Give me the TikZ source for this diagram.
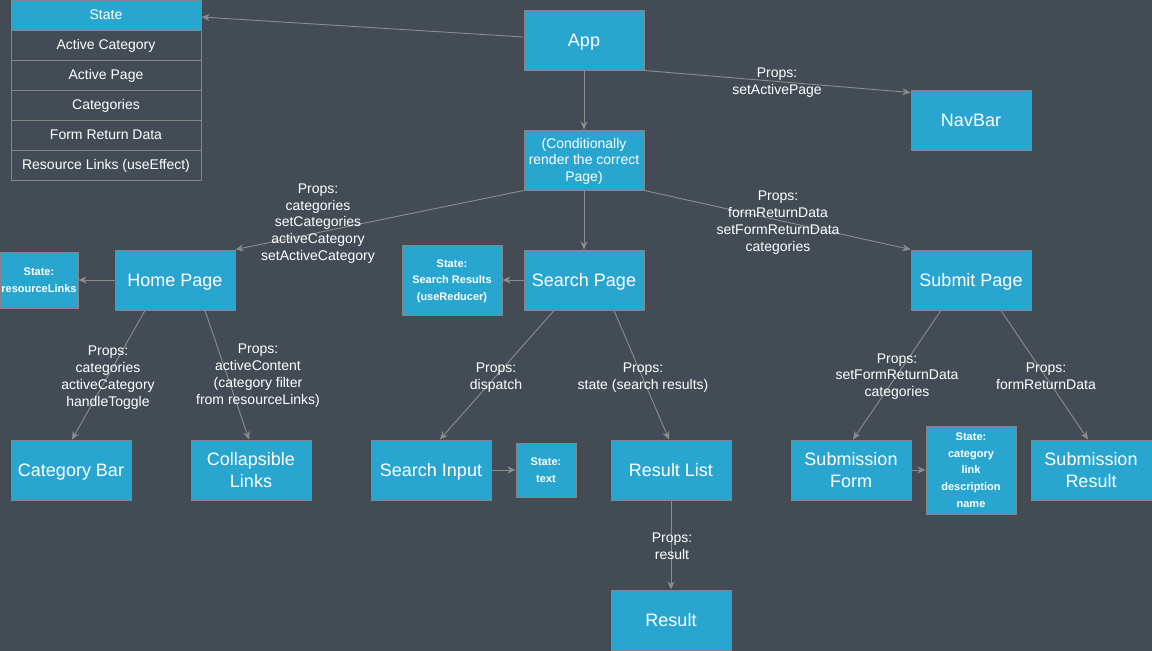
\documentclass[tikz,border=0pt]{standalone}
\usepackage{fontspec}
\setmainfont{Liberation Sans}
\usetikzlibrary{arrows.meta}
\definecolor{bg}{HTML}{434C55}
\definecolor{boxblue}{HTML}{28A6CF}
\definecolor{bordergray}{HTML}{858585}
\definecolor{edgegray}{HTML}{8C8C8C}
\newcommand\ls{\rule[-0.212em]{0pt}{1.117em}}
\tikzset{
  strutted/.style={execute at begin node=\ls, execute at end node=\ls},
  box/.style={strutted, draw=bordergray, fill=boxblue, line width=1pt, minimum width=120pt, minimum height=60pt, inner sep=0pt, text=white, align=center, font=\fontsize{18}{21.6}\selectfont},
  statebox/.style={strutted, draw=bordergray, fill=boxblue, line width=1pt, inner sep=0pt, text=white, align=center, font=\bfseries\fontsize{11}{16.8}\selectfont},
  cell/.style={strutted, draw=bordergray, fill=bg, line width=1pt, minimum width=190pt, minimum height=30pt, inner sep=0pt, text=white, font=\fontsize{14}{17}\selectfont},
  lbl/.style={strutted, text=white, align=center, inner sep=0pt, font=\fontsize{14}{16.8}\selectfont},
  edge/.style={draw=edgegray, line width=0.9pt, -{Stealth[length=8pt,width=7pt,inset=2.5pt]}},
}
\begin{document}
\begin{tikzpicture}[x=1pt,y=-1pt]
\fill[bg] (0,0) rectangle (1152,651);
\useasboundingbox (0,0) rectangle (1152,651);

% state table
\node[cell, fill=boxblue] (st1) at (106,15) {State};
\node[cell] (st2) at (106,45) {Active Category};
\node[cell] (st3) at (106,75) {Active Page};
\node[cell] (st4) at (106,105) {Categories};
\node[cell] (st5) at (106,135) {Form Return Data};
\node[cell] (st6) at (106,165) {Resource Links (useEffect)};

% main boxes
\node[box] (app) at (584,40) {App};
\node[box, font=\fontsize{14}{16.8}\selectfont] (cond) at (584,160) {\ls(Conditionally\\render the correct\\Page)\ls};
\node[box] (nav) at (971,120) {NavBar};
\node[box] (home) at (175,280) {Home Page};
\node[box] (search) at (584,280) {Search Page};
\node[box] (submit) at (971,280) {Submit Page};
\node[box] (catbar) at (71,470) {Category Bar};
\node[box] (coll) at (251,470) {\ls Collapsible\\Links\ls};
\node[box] (sinput) at (431,470) {Search Input};
\node[box] (rlist) at (671,470) {Result List};
\node[box] (result) at (671,620) {Result};
\node[box] (sform) at (851,470) {\ls Submission\\Form\ls};
\node[box] (sresult) at (1091,470) {\ls Submission\\Result\ls};

% state boxes
\node[statebox, minimum width=78pt, minimum height=56pt] (rl) at (39,280) {\ls State:\\resourceLinks\ls};
\node[statebox, minimum width=100pt, minimum height=70pt] (sr) at (452,280) {\ls State:\\Search Results\\(useReducer)\ls};
\node[statebox, minimum width=60pt, minimum height=54pt] (txt) at (546,470) {\ls State:\\text\ls};
\node[statebox, minimum width=90pt, minimum height=88pt] (fst) at (971,470) {\ls State:\\category\\link\\description\\name\ls};

% edges
\draw[edge] ([yshift=3pt]app.west) -- ([yshift=-2pt]st1.east);
\draw[edge] (app.south east) -- ([yshift=-3pt]nav.north west);
\draw[edge] (app.south) -- (cond.north);
\draw[edge] (cond.south west) -- (home.north east);
\draw[edge] (cond.south) -- (search.north);
\draw[edge] (cond.south east) -- (submit.north west);
\draw[edge] (home.west) -- (rl.east);
\draw[edge] (search.west) -- (sr.east);
\draw[edge] ([xshift=-30pt]home.south) -- ([xshift=1pt]catbar.north);
\draw[edge] ([xshift=30pt]home.south) -- ([xshift=-2pt]coll.north);
\draw[edge] ([xshift=-30pt]search.south) -- ([xshift=9pt]sinput.north);
\draw[edge] ([xshift=30pt]search.south) -- ([xshift=-2pt]rlist.north);
\draw[edge] (sinput.east) -- (txt.west);
\draw[edge] (rlist.south) -- (result.north);
\draw[edge] ([xshift=-30pt]submit.south) -- ([xshift=2pt]sform.north);
\draw[edge] ([xshift=30pt]submit.south) -- ([xshift=-3pt]sresult.north);
\draw[edge] (sform.east) -- (fst.west);

% labels
\node[lbl] (l1) at (777,81) {\ls Props:\\setActivePage\ls};
\node[lbl] (l2) at (318,222) {\ls Props:\\categories\\setCategories\\activeCategory\\setActiveCategory\ls};
\node[lbl] (l3) at (778,221) {\ls Props:\\formReturnData\\setFormReturnData\\categories\ls};
\node[lbl] (l4) at (108,376) {\ls Props:\\categories\\activeCategory\\handleToggle\ls};
\node[lbl] (l5) at (258,374) {\ls Props:\\activeContent\\(category filter\\from resourceLinks)\ls};
\node[lbl] (l6) at (496,376) {\ls Props:\\dispatch\ls};
\node[lbl] (l7) at (643,376) {\ls Props:\\state (search results)\ls};
\node[lbl] (l8) at (672,546) {\ls Props:\\result\ls};
\node[lbl] (l9) at (897,375) {\ls Props:\\setFormReturnData\\categories\ls};
\node[lbl] (l10) at (1046,376) {\ls Props:\\formReturnData\ls};
\end{tikzpicture}
\end{document}
